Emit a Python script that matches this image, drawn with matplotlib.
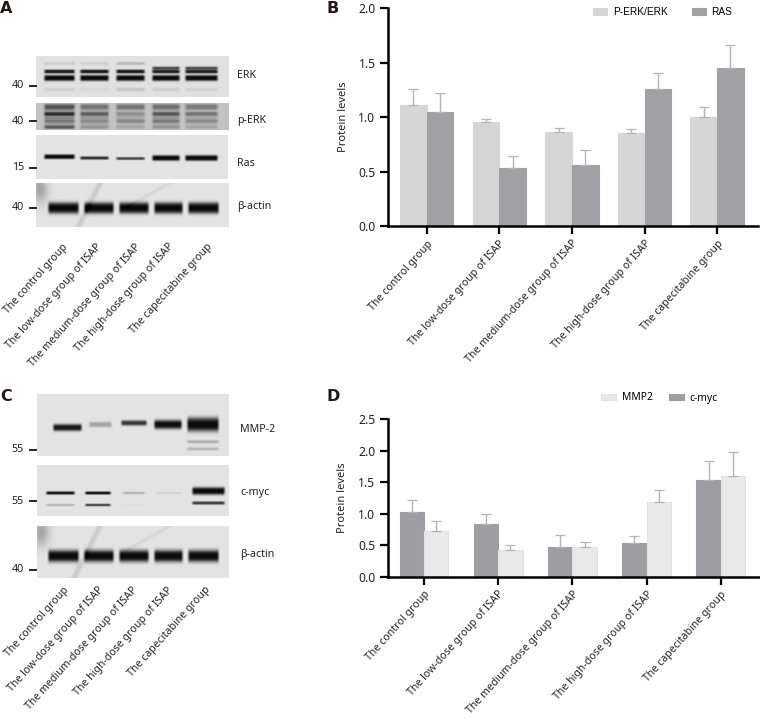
import numpy as np
import matplotlib
matplotlib.use("Agg")
import matplotlib.pyplot as plt
from matplotlib.transforms import ScaledTranslation

W, H = 760, 720
plt.rcParams['font.family'] = ['Noto Sans', 'DejaVu Sans']

groups = ["The control group", "The low-dose group of ISAP", "The medium-dose group of ISAP",
          "The high-dose group of ISAP", "The capecitabine group"]
perk = [1.11, 0.96, 0.86, 0.855, 1.00]
perk_top = [1.26, 0.98, 0.90, 0.89, 1.09]
ras = [1.05, 0.53, 0.56, 1.26, 1.45]
ras_top = [1.22, 0.64, 0.70, 1.41, 1.66]
cmyc = [1.02, 0.83, 0.47, 0.53, 1.54]
cmyc_top = [1.21, 1.00, 0.66, 0.64, 1.83]
mmp2 = [0.73, 0.42, 0.47, 1.19, 1.59]
mmp2_top = [0.88, 0.51, 0.55, 1.37, 1.97]

# blot bands: lane x-range (px), centre y per lane (px), half-height per lane (px), darkness per lane
lanes_a = [(43, 76), (79, 110), (115, 146), (151, 181), (184, 219)]
lanes_actin = [(47, 80), (83, 115), (118, 150), (153, 184), (187, 220)]
lanes_mmp = [(52, 83), (88, 113), (120, 148), (153, 183), (186, 220)]
lanes_myc = [(45, 76), (84, 112), (122, 146), (155, 183), (191, 226)]
erk_bands = [([71.5] * 5, [2.0] * 5, [.92, .92, .92, .9, .9]),
             ([78] * 5, [3.0] * 5, [1, 1, 1, 1, 1]),
             ([68.5] * 5, [2.0] * 5, [0, 0, 0, .7, .7]),
             ([63.5] * 5, [1.6] * 5, [.1, .08, .18, 0, 0]),
             ([89.5] * 5, [2.0] * 5, [.07, .04, .12, .08, .06])]
perk_bands = [([116] * 5, [11] * 5, [.32, .22, .14, .24, .16]),
              ([107] * 5, [3] * 5, [.6, .42, .42, .45, .38]),
              ([114] * 5, [2.4] * 5, [.8, .55, .28, .58, .42]),
              ([121] * 5, [2.2] * 5, [.42, .32, .32, .4, .3]),
              ([127] * 5, [2] * 5, [.55, .25, .15, .25, .15])]
ras_bands = [([156.7, 158, 158.5, 158, 158], [2.4, 1.7, 1.5, 2.8, 2.9], [1, .8, .7, 1, 1])]
actin_a_bands = [([208] * 5, [5.6] * 5, [1, 1, 1, 1, 1])]
mmp_bands = [([428, 425, 423.5, 425, 425], [3.4, 2.6, 2.6, 4.4, 6.8], [.95, .3, .8, 1, 1]),
             ([442] * 5, [1.6] * 5, [0, 0, 0, 0, .25]),
             ([449] * 5, [1.6] * 5, [0, 0, 0, 0, .2])]
myc_bands = [([493, 493, 493, 493, 491], [1.7, 1.6, 1.3, 1.2, 3.8], [.92, .95, .22, .08, 1]),
             ([505, 505, 505, 505, 503], [1.3, 1.4, 1, 1, 1.7], [.2, .7, .03, 0, .75])]
actin_c_bands = [([556] * 5, [6.0] * 5, [1, 1, 1, 1, 1])]

fig = plt.figure(figsize=(W / 100, H / 100), dpi=100)


def ax_px(x0, y0, x1, y1):
    return fig.add_axes([x0 / W, 1 - y1 / H, (x1 - x0) / W, (y1 - y0) / H])


def blot(x0, y0, x1, y1, lanes, bands, bg=0.89, smear=False):
    xx, yy = np.meshgrid(np.arange(x0, x1) + .5, np.arange(y0, y1) + .5)
    dark = np.zeros_like(xx)
    for ycs, hhs, levels in bands:
        for (a, b), yc, hh, lv in zip(lanes, ycs, hhs, levels):
            fx = np.clip((xx - a) / 3, 0, 1) * np.clip((b - xx) / 3, 0, 1)
            fy = np.exp(-np.abs((yy - yc) / hh) ** 3)
            dark = np.maximum(dark, lv * fx * fy)
    img = bg - dark * (bg - 0.04)
    if smear:
        # membrane marks on the actin panels
        img -= 0.25 * np.exp(-((xx - x0 - 4) / 8) ** 2) * np.exp(-((yy - y0 - 6) / 14) ** 2)
        img -= 0.10 * np.exp(-((xx - 85 - (y0 + 30 - yy) * 0.5) / 3) ** 2)
        img -= 0.05 * np.exp(-((xx - 125 - (y0 + 25 - yy) * 1.8) / 4) ** 2) * (yy < y0 + 25)
    ax = ax_px(x0, y0, x1, y1)
    ax.imshow(img, cmap='gray', vmin=0, vmax=1, aspect='auto', interpolation='bilinear')
    ax.axis('off')


blot(36, 56, 229, 97, lanes_a, erk_bands, bg=.88)
blot(36, 103, 229, 130, lanes_a, perk_bands, bg=.76)
blot(36, 135, 228, 179, lanes_a, ras_bands, bg=.89)
blot(36, 183, 229, 227, lanes_actin, actin_a_bands, smear=True)
blot(37, 394, 229, 456, lanes_mmp, mmp_bands)
blot(37, 465, 229, 516, lanes_myc, myc_bands)
blot(37, 526, 229, 578, lanes_actin, actin_c_bands, smear=True)

overlay = fig.add_axes([0, 0, 1, 1])
overlay.set_xlim(0, W)
overlay.set_ylim(H, 0)
overlay.axis('off')
overlay.patch.set_alpha(0)

for s, x, y in [("A", 0, 8.5), ("B", 327, 8.5), ("C", 0, 396.5), ("D", 327, 396.5)]:
    overlay.text(x, y, s, fontsize=11.5, fontweight='bold', family='DejaVu Sans', va='center', ha='left',
                 color='#231815')

for s, y in [("ERK", 76), ("p-ERK", 120), ("Ras", 163), ("β-actin", 207)]:
    overlay.text(237, y, s, fontsize=7.7, va='center', color='#222222')
for s, y in [("MMP-2", 429), ("c-myc", 493), ("β-actin", 555)]:
    overlay.text(240, y, s, fontsize=7.7, va='center', color='#222222')
for s, y in [("40", 86), ("40", 121), ("15", 168), ("40", 208), ("55", 450), ("55", 501), ("40", 570)]:
    overlay.text(24, y, s, fontsize=7.7, va='center', ha='right', color='#222222')
    overlay.plot([30, 36], [y, y], color='#111111', lw=1.3)

for xs, yt in [([66, 100, 139, 172, 211], 245), ([67, 102, 136, 171, 209], 588.5)]:
    for s, x in zip(groups, xs):
        overlay.text(x, yt, s, fontsize=7.6, rotation=48, ha='right', va='center',
                     rotation_mode='anchor', color='#222222')


def bars(box, xlim, width, ylim, yticks, s1, t1, c1, e1, s2, t2, c2, e2):
    ax = ax_px(*box)
    x = np.arange(len(groups))
    ekw = dict(ecolor='#b4b4b4', elinewidth=1.0, capsize=3.6, capthick=0.9)
    out = []
    for off, vals, tops, col, ec in [(-width / 2, s1, t1, c1, e1), (width / 2, s2, t2, c2, e2)]:
        v = np.array(vals)
        err = np.vstack([np.zeros_like(v), np.array(tops) - v])
        b = ax.bar(x + off, v, width, color=col, edgecolor=ec, linewidth=0.8, yerr=err, error_kw=ekw, zorder=2)
        out.append(b[0])
    ax.set_xlim(*xlim)
    ax.set_ylim(*ylim)
    ax.set_yticks(yticks)
    ax.set_yticklabels([f"{t:.1f}" for t in yticks], fontsize=8.7, color='#222222')
    ax.set_xticks(x)
    ax.set_xticklabels(groups, rotation=48, ha='right', va='center', rotation_mode='anchor', fontsize=7.6,
                       color='#222222')
    ax.set_ylabel("Protein levels", fontsize=8, color='#222222', labelpad=7)
    for sp in ['top', 'right']:
        ax.spines[sp].set_visible(False)
    for sp in ['left', 'bottom']:
        ax.spines[sp].set_linewidth(1.8)
    ax.tick_params(axis='both', width=1.6, length=6, pad=3)
    ax.tick_params(axis='x', pad=5.5)
    shift = ScaledTranslation(4 / 100, 0, fig.dpi_scale_trans)
    for lab in ax.get_xticklabels():
        lab.set_transform(lab.get_transform() + shift)
    ax.patch.set_alpha(0)
    return ax, out


axb, hb = bars((388, 8.3, 758, 226), (-0.533, 4.563), 0.368, (0, 2), [0, .5, 1, 1.5, 2],
               perk, perk_top, '#d6d6d6', '#d6d6d6', ras, ras_top, '#a1a1a5', '#a1a1a5')
axd, hd = bars((387.7, 419, 759, 576.7), (-0.489, 4.515), 0.328, (0, 2.5), [0, .5, 1, 1.5, 2, 2.5],
               cmyc, cmyc_top, '#9e9ea2', '#9e9ea2', mmp2, mmp2_top, '#e9e9e9', '#e2e2e2')

axb.legend(hb, ["P-ERK/ERK", "RAS"], loc='center left',
           bbox_to_anchor=((593 - 388) / 370, (226 - 12) / 217.7), ncol=2, frameon=False,
           prop=dict(family='Liberation Sans', size=7.3),
           handlelength=1.35, handleheight=0.6, columnspacing=2.4, handletextpad=0.6, borderpad=0, borderaxespad=0)
axd.legend([hd[1], hd[0]], ["MMP2", "c-myc"], loc='center left',
           bbox_to_anchor=((601 - 387.7) / 371.3, (576.7 - 398) / 157.7), ncol=2, frameon=False,
           prop=dict(size=7.4), handlelength=1.45, handleheight=0.6, columnspacing=1.6, handletextpad=0.55,
           borderpad=0, borderaxespad=0)

fig.savefig("out.png", dpi=100)
